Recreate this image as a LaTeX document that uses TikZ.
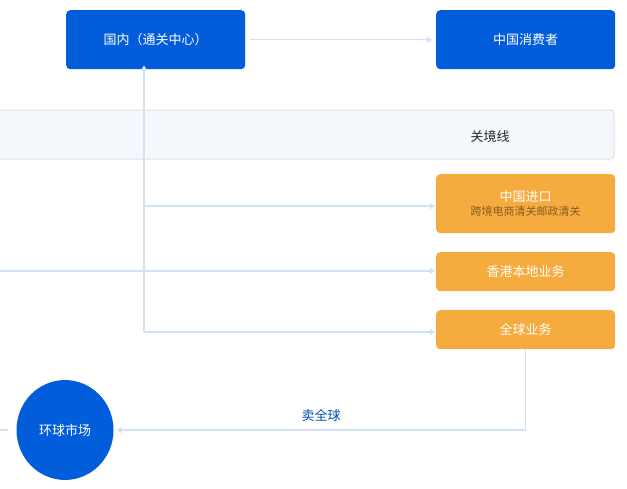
\documentclass[tikz,border=0pt]{standalone}
\usepackage{fontspec}
\setmainfont{Noto Sans CJK SC}
\usetikzlibrary{arrows.meta}
\definecolor{blu}{HTML}{025DDA}
\definecolor{org}{HTML}{F5AB3D}
\definecolor{ln}{HTML}{D3E1F5}
\definecolor{band}{HTML}{F4F7FC}
\begin{document}
\begin{tikzpicture}[x=1pt,y=-1pt,
 box/.style={rounded corners=4pt,minimum width=179pt,text=white,font=\fontsize{13}{15}\selectfont,inner sep=0pt},
 bbox/.style={box,fill=blu,minimum height=59pt},
 obox/.style={box,fill=org},
 con/.style={draw=ln,line width=1.5pt,-{Triangle[length=5pt,width=6pt]}}]
\useasboundingbox (0,0) rectangle (627,488);
\draw[rounded corners=4pt,densely dotted,draw=gray!40,fill=band,line width=1pt] (-5,110) rectangle (614,159);
\node[font=\fontsize{13}{15}\selectfont,text=black!85] (gl) at (490,137) {关境线};
\node[bbox,anchor=north west] (gn) at (66,10) {国内（通关中心）};
\node[bbox,anchor=north west] (xf) at (436,10) {中国消费者};
\node[obox,anchor=north west,minimum height=59pt,align=center] (jk) at (436,174) {中国进口\\[-1pt]{\fontsize{11}{13}\selectfont\color{black!45!org}跨境电商清关邮政清关}};
\node[obox,anchor=north west,minimum height=39pt] (xg) at (436,252) {香港本地业务};
\node[obox,anchor=north west,minimum height=39pt] (qq) at (436,310) {全球业务};
\node[circle,fill=blu,minimum size=97pt,inner sep=0pt,text=white,font=\fontsize{13}{15}\selectfont,xscale=1,yscale=1.03] (hq) at (65,430) {环球市场};
\coordinate (c1) at (144,332);
\coordinate (c2) at (144,206);
\coordinate (l0) at (0,271);
\coordinate (e0) at (0,430);
\draw[con] (gn.east) ++(5,0) -- ([xshift=-4pt]xf.west);
\draw[con] (c1) -- ([yshift=4pt]gn.south -| c1);
\draw[con] (c2) -- ([xshift=-1pt]jk.west |- c2);
\draw[con] (c1) -- ([xshift=-1pt]qq.west |- c1);
\draw[con] (l0) -- ([xshift=-1pt]xg.west |- l0);
\draw[con] (qq.south) |- node[pos=0.75,above=4pt,text=blu!80!black,font=\fontsize{13}{15}\selectfont] {卖全球} ([xshift=3pt]hq.east);
\draw[draw=ln,line width=1.5pt] (e0) -- ([xshift=-8pt]hq.west);
\end{tikzpicture}
\end{document}
